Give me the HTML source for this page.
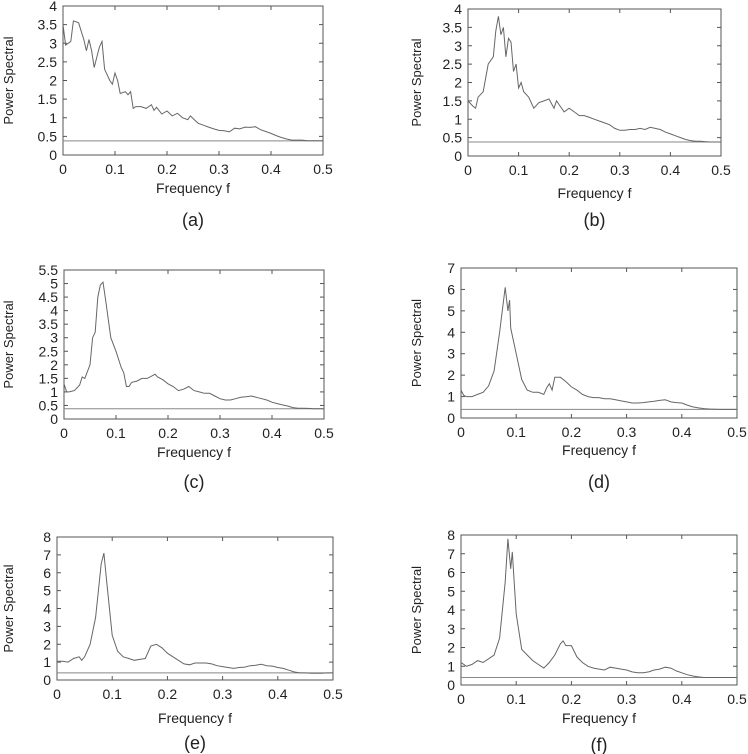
<!DOCTYPE html>
<html><head><meta charset="utf-8">
<style>
body{margin:0;background:#fff;}
svg{display:block;font-family:"Liberation Sans",sans-serif;}
</style></head>
<body>
<svg id="fig" width="748" height="754"></svg>
<script>
const freqA=[0,0.005,0.01,0.015,0.02,0.03,0.04,0.045,0.05,0.055,0.06,0.07,0.075,0.08,0.09,0.095,0.1,0.105,0.11,0.12,0.125,0.13,0.135,0.14,0.15,0.16,0.17,0.175,0.18,0.19,0.2,0.21,0.22,0.23,0.24,0.245,0.25,0.26,0.27,0.28,0.29,0.3,0.31,0.32,0.33,0.34,0.35,0.36,0.37,0.38,0.39,0.4,0.41,0.42,0.43,0.44,0.45,0.46,0.47,0.48,0.49,0.5];
const valsA=[3.5,2.95,3.0,3.05,3.6,3.55,3.1,2.8,3.1,2.8,2.35,2.9,3.05,2.3,2.0,1.9,2.2,2.0,1.65,1.7,1.62,1.7,1.25,1.3,1.3,1.25,1.35,1.2,1.28,1.1,1.18,1.05,1.12,1.0,0.95,1.05,0.98,0.85,0.8,0.75,0.7,0.66,0.65,0.62,0.72,0.7,0.75,0.74,0.76,0.68,0.63,0.58,0.52,0.47,0.43,0.4,0.4,0.4,0.38,0.38,0.38,0.38];
const freqB=[0,0.01,0.015,0.02,0.03,0.04,0.05,0.055,0.06,0.065,0.07,0.075,0.08,0.085,0.09,0.095,0.1,0.105,0.11,0.12,0.13,0.14,0.15,0.16,0.17,0.175,0.18,0.19,0.2,0.21,0.22,0.23,0.24,0.25,0.26,0.27,0.28,0.29,0.3,0.31,0.32,0.33,0.34,0.35,0.36,0.37,0.38,0.39,0.4,0.41,0.42,0.43,0.44,0.45,0.46,0.47,0.48,0.49,0.5];
const valsB=[1.5,1.35,1.3,1.6,1.75,2.5,2.7,3.4,3.8,3.3,3.5,2.7,3.2,3.1,2.3,2.5,1.85,2.0,1.75,1.6,1.3,1.45,1.5,1.55,1.3,1.5,1.4,1.2,1.3,1.2,1.1,1.1,1.05,1.0,0.95,0.9,0.85,0.75,0.7,0.7,0.72,0.72,0.75,0.72,0.78,0.75,0.72,0.65,0.6,0.55,0.5,0.45,0.42,0.4,0.4,0.39,0.38,0.38,0.38];
const freqC=[0,0.005,0.01,0.02,0.03,0.035,0.04,0.05,0.055,0.06,0.065,0.07,0.075,0.08,0.09,0.1,0.11,0.115,0.12,0.125,0.13,0.14,0.15,0.16,0.17,0.175,0.18,0.19,0.2,0.21,0.22,0.23,0.24,0.25,0.26,0.27,0.28,0.29,0.3,0.31,0.32,0.33,0.34,0.35,0.36,0.37,0.38,0.39,0.4,0.41,0.42,0.43,0.44,0.45,0.46,0.47,0.48,0.49,0.5];
const valsC=[1.3,1.0,1.0,1.05,1.25,1.55,1.5,2.0,3.0,3.2,4.5,4.95,5.05,4.4,3.0,2.5,1.9,1.7,1.2,1.2,1.35,1.4,1.5,1.5,1.6,1.65,1.55,1.45,1.3,1.2,1.05,1.1,1.2,1.05,1.0,0.95,0.95,0.85,0.75,0.7,0.7,0.75,0.8,0.82,0.85,0.8,0.75,0.7,0.62,0.57,0.52,0.48,0.42,0.4,0.4,0.39,0.38,0.38,0.38];
const freqD=[0,0.005,0.01,0.02,0.03,0.04,0.05,0.06,0.07,0.08,0.085,0.088,0.09,0.1,0.11,0.12,0.13,0.14,0.15,0.155,0.16,0.165,0.17,0.18,0.19,0.2,0.21,0.22,0.23,0.24,0.25,0.26,0.27,0.28,0.29,0.3,0.31,0.32,0.33,0.34,0.35,0.36,0.37,0.38,0.39,0.4,0.41,0.42,0.43,0.44,0.45,0.46,0.47,0.48,0.49,0.5];
const valsD=[1.3,1.05,1.0,1.0,1.1,1.2,1.5,2.2,4.0,6.1,5.0,5.5,4.2,3.0,1.8,1.3,1.2,1.2,1.1,1.4,1.6,1.3,1.9,1.9,1.7,1.45,1.3,1.1,1.0,0.95,0.95,0.9,0.9,0.85,0.8,0.75,0.7,0.7,0.72,0.75,0.78,0.82,0.85,0.75,0.72,0.7,0.6,0.52,0.47,0.44,0.42,0.41,0.4,0.4,0.4,0.4];
const freqE=[0,0.01,0.02,0.03,0.04,0.045,0.05,0.06,0.07,0.08,0.085,0.09,0.1,0.11,0.12,0.13,0.14,0.15,0.16,0.17,0.18,0.19,0.2,0.21,0.22,0.23,0.24,0.25,0.26,0.27,0.28,0.29,0.3,0.31,0.32,0.33,0.34,0.35,0.36,0.37,0.38,0.39,0.4,0.41,0.42,0.43,0.44,0.45,0.46,0.47,0.48,0.49,0.5];
const valsE=[1.05,1.05,1.0,1.2,1.3,1.1,1.3,2.0,3.5,6.5,7.1,5.5,2.5,1.6,1.3,1.2,1.1,1.15,1.2,1.9,2.0,1.8,1.5,1.3,1.1,0.9,0.85,0.95,0.95,0.95,0.9,0.8,0.75,0.7,0.65,0.7,0.72,0.8,0.82,0.88,0.8,0.78,0.7,0.65,0.55,0.45,0.4,0.4,0.38,0.38,0.38,0.4,0.4];
const freqF=[0,0.01,0.02,0.03,0.04,0.05,0.06,0.07,0.08,0.085,0.09,0.093,0.1,0.11,0.12,0.13,0.14,0.15,0.16,0.17,0.18,0.185,0.19,0.2,0.21,0.22,0.23,0.24,0.25,0.26,0.27,0.28,0.29,0.3,0.31,0.32,0.33,0.34,0.35,0.36,0.37,0.38,0.39,0.4,0.41,0.42,0.43,0.44,0.45,0.46,0.47,0.48,0.49,0.5];
const valsF=[1.2,1.0,1.1,1.3,1.2,1.4,1.6,2.5,5.5,7.8,6.2,7.1,3.8,1.9,1.6,1.3,1.1,0.9,1.2,1.6,2.2,2.35,2.1,2.1,1.5,1.2,1.0,0.9,0.85,0.8,0.95,0.9,0.85,0.8,0.7,0.65,0.65,0.7,0.8,0.85,0.95,0.9,0.75,0.65,0.55,0.48,0.43,0.4,0.4,0.4,0.4,0.4,0.4,0.4];
const yTicksA=[0,0.5,1,1.5,2,2.5,3,3.5,4];
const yTicksC=[0,0.5,1,1.5,2,2.5,3,3.5,4,4.5,5,5.5];
const yTicksD=[0,1,2,3,4,5,6,7];
const yTicksE=[0,1,2,3,4,5,6,7,8];
const xTicks=[0,0.1,0.2,0.3,0.4,0.5];
const sigLevel=[0.38,0.38,0.38,0.4,0.4,0.4];

const panels=[
 {id:'a',f:freqA,v:valsA,yt:yTicksA,x0:63,x1:323,y0:6,y1:155,fy:193,ly:226,yl:8},
 {id:'b',f:freqB,v:valsB,yt:yTicksA,x0:468,x1:721,y0:9,y1:156,fy:198,ly:226,yl:416},
 {id:'c',f:freqC,v:valsC,yt:yTicksC,x0:64,x1:324,y0:270,y1:419,fy:457,ly:488,yl:8},
 {id:'d',f:freqD,v:valsD,yt:yTicksD,x0:461,x1:737,y0:268,y1:418,fy:455,ly:488,yl:416},
 {id:'e',f:freqE,v:valsE,yt:yTicksE,x0:57,x1:333,y0:537,y1:680,fy:723,ly:749,yl:8},
 {id:'f',f:freqF,v:valsF,yt:yTicksE,x0:461,x1:737,y0:535,y1:685,fy:723,ly:751,yl:416}
];
const NS='http://www.w3.org/2000/svg';
const svg=document.getElementById('fig');
function mk(t,a,p){const e=document.createElementNS(NS,t);for(const k in a)e.setAttribute(k,a[k]);(p||svg).appendChild(e);return e;}
panels.forEach((P,i)=>{
 const g=mk('g',{});
 
 
 const ymax=P.yt[P.yt.length-1];
 const sx=f=>P.x0+(f/0.5)*(P.x1-P.x0);
 const sy=v=>P.y1-(v/ymax)*(P.y1-P.y0);
 const fr=mk('rect',{x:P.x0,y:P.y0,width:P.x1-P.x0,height:P.y1-P.y0,fill:'none',stroke:'#555','stroke-width':1},g);
 
 
 P.yt.forEach(t=>{
  const y=sy(t);
  mk('line',{x1:P.x0,x2:P.x0+4,y1:y,y2:y,stroke:'#555'},g);
  mk('line',{x1:P.x1,x2:P.x1-4,y1:y,y2:y,stroke:'#555'},g);
  const tx=mk('text',{x:P.x0-6,y:y+5,'text-anchor':'end','font-size':14,fill:'#222'},g);
  tx.textContent=String(t);
  
  
 });
 xTicks.forEach(t=>{
  const x=sx(t);
  mk('line',{x1:x,x2:x,y1:P.y1,y2:P.y1-4,stroke:'#555'},g);
  mk('line',{x1:x,x2:x,y1:P.y0,y2:P.y0+4,stroke:'#555'},g);
  const tx=mk('text',{x:x,y:P.y1+19,'text-anchor':'middle','font-size':14,fill:'#222'},g);
  tx.textContent=String(t);
  
  
 });
 const sl=mk('line',{x1:P.x0,x2:P.x1,y1:sy(sigLevel[i]),y2:sy(sigLevel[i]),stroke:'#888','stroke-width':1},g);
 
 
 const pts=P.f.map((f,k)=>sx(f).toFixed(1)+','+sy(P.v[k]).toFixed(1)).join(' ');
 const pl=mk('polyline',{points:pts,fill:'none',stroke:'#666','stroke-width':1},g);
 
 
 const xl=mk('text',{x:(P.x0+P.x1)/2,y:P.fy,'text-anchor':'middle','font-size':14,fill:'#222'},g);
 xl.textContent='Frequency f';
 
 
 const yc=(P.y0+P.y1)/2;
 const yl=mk('text',{x:0,y:0,transform:'translate('+(P.yl+5)+','+yc+') rotate(-90)','text-anchor':'middle','font-size':13,fill:'#222'},g);
 yl.textContent='Power Spectral';
 
 
 const cap=mk('text',{x:(P.x0+P.x1)/2,y:P.ly,'text-anchor':'middle','font-size':18,fill:'#222'},g);
 cap.textContent='('+P.id+')';
 
 
});
</script>
</body></html>
